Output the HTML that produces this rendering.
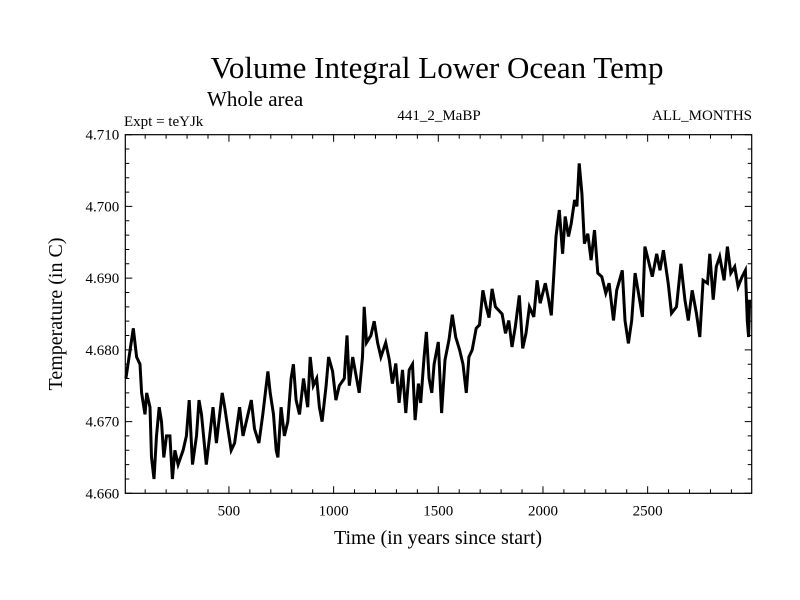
<!DOCTYPE html>
<html><head><meta charset="utf-8"><style>
body{margin:0;background:#fff;}
svg{display:block;font-family:"Liberation Serif",serif;}
</style></head><body>
<svg id="chart" width="800" height="600">
<text x="437" y="78" font-size="31" text-anchor="middle">Volume Integral Lower Ocean Temp</text>
<text x="207" y="106" font-size="21">Whole area</text>
<text x="124" y="126" font-size="15">Expt = teYJk</text>
<text x="439" y="120" font-size="15" text-anchor="middle">441_2_MaBP</text>
<text x="752" y="120" font-size="15" text-anchor="end">ALL_MONTHS</text>
<text x="438" y="544" font-size="20" text-anchor="middle">Time (in years since start)</text>
<text transform="translate(62,314) rotate(-90)" font-size="20" text-anchor="middle">Temperature (in C)</text>
<g id="axes"></g>
<g id="series"></g>
</svg>
<script>
const years=[8,43,59,75,83,99,107,123,130,142,154,167,178,189,202,218,230,242,257,281,297,310,326,345,357,369,392,408,424,440,456,468,480,495,511,527,551,567,591,607,622,643,662,678,686,697,713,726,734,749,765,781,797,808,821,837,856,876,888,903,919,932,945,964,976,995,1011,1027,1051,1064,1075,1091,1110,1122,1138,1146,1157,1178,1194,1210,1226,1249,
1266,1281,1297,1313,1329,1345,1361,1377,1389,1405,1416,1432,1443,1456,1469,1480,1500,1516,1532,1551,1567,1583,1602,1618,1634,1646,1662,1681,1697,1713,1729,1742,1757,1773,
1805,1821,1837,1852,1868,1887,1903,1919,1935,1956,1972,1987,2011,2027,2040,2051,2062,2078,2094,2106,2122,2135,2151,2162,2173,2186,2198,2214,2230,2246,2262,2281,2300,2316,2337,2352,2379,2392,2408,2424,2440,2459,2475,2487,2503,2522,2543,2559,2575,2598,2614,2638,2659,2678,2694,2713,2733,2749,2765,2786,2797,2813,2828,2844,2865,2881,2897,2916,2932,2951,2967,2976,2982,2987];
const temps=[4.676,4.683,4.679,4.678,4.674,4.671,4.674,4.672,4.665,4.662,4.668,4.672,4.670,4.665,4.668,4.668,4.662,4.666,4.664,4.666,4.668,4.673,4.664,4.668,4.673,4.671,4.664,4.668,4.672,4.667,4.671,4.674,4.672,4.669,4.666,4.667,4.672,4.668,4.671,4.673,4.669,4.667,4.671,4.675,4.677,4.674,4.671,4.666,4.665,4.672,4.668,4.670,4.676,4.678,4.673,4.671,4.676,4.672,4.679,4.675,4.676,4.672,4.670,4.675,4.679,4.677,4.673,4.675,4.676,4.682,4.675,4.679,4.676,4.674,4.679,4.686,4.681,4.682,4.684,4.681,4.679,4.681,
4.6786,4.6753,4.6781,4.6726,4.6772,4.6712,4.6772,4.678,4.6702,4.6753,4.6726,4.679,4.6825,4.676,4.674,4.678,4.6811,4.6712,4.6786,4.6814,4.6849,4.6818,4.680,4.678,4.674,4.679,4.680,4.683,4.6835,4.6883,4.686,4.6845,4.6885,4.686,
4.685,4.6823,4.6841,4.6804,4.6832,4.6876,4.6802,4.6823,4.686,4.6846,4.6897,4.6865,4.6893,4.687,4.6848,4.690,4.6958,4.6995,4.6934,4.6986,4.6958,4.6976,4.7009,4.700,4.706,4.7018,4.6948,4.6962,4.6925,4.6967,4.6907,4.6902,4.6879,4.6893,4.6841,4.6883,4.6911,4.6841,4.6809,4.6841,4.6907,4.6874,4.6846,4.6944,4.6925,4.6902,4.6934,4.6911,4.6939,4.6893,4.6851,4.686,4.692,4.687,4.6841,4.6883,4.6851,4.6818,4.6897,4.6893,4.6934,4.687,4.6916,4.693,4.6897,4.6944,4.6907,4.6916,4.6888,4.6902,4.6911,4.6841,4.6818,4.687];
const xTickLabels=[500,1000,1500,2000,2500];
const yTickLabels=["4.660","4.670","4.680","4.690","4.700","4.710"];
const X0=125.3,X1=751.7,Y0=493.3,Y1=134.7;
const xmin=5,xmax=2997,ymin=4.660,ymax=4.710;
const sx=v=>X0+(v-xmin)/(xmax-xmin)*(X1-X0);
const sy=v=>Y0-(v-ymin)/(ymax-ymin)*(Y0-Y1);
const NS="http://www.w3.org/2000/svg";
const axes=document.getElementById('axes');
function mk(tag,attrs,parent){const e=document.createElementNS(NS,tag);for(const k in attrs)e.setAttribute(k,attrs[k]);parent.appendChild(e);return e;}
const frame=mk('rect',{x:X0,y:Y1,width:X1-X0,height:Y0-Y1,fill:'none',stroke:'#000','stroke-width':1.2},axes);


for(let v=100;v<xmax;v+=100){
  const x=sx(v),L=(v%500===0)?7:4;
  const t=mk('path',{d:`M${x},${Y0}v${-L}M${x},${Y1}v${L}`,stroke:'#000','stroke-width':1},axes);
  
  
}
xTickLabels.forEach(v=>{
  const t=mk('text',{x:sx(v),y:Y0+22,'font-size':15,'text-anchor':'middle'},axes);t.textContent=v;
  
  
});
for(let i=0;i<=25;i++){
  const v=ymin+i*0.002,y=sy(v),L=(i%5===0)?7:4;
  const t=mk('path',{d:`M${X0},${y}h${L}M${X1},${y}h${-L}`,stroke:'#000','stroke-width':1},axes);
  
  
}
yTickLabels.forEach(s=>{
  const t=mk('text',{x:X0-6,y:sy(parseFloat(s))+5,'font-size':15,'text-anchor':'end'},axes);t.textContent=s;
  
  
});
const d=years.map((yr,i)=>(i?'L':'M')+sx(yr).toFixed(1)+','+sy(temps[i]).toFixed(1)).join('');
const line=mk('path',{d:d,fill:'none',stroke:'#000','stroke-width':3,'stroke-linejoin':'miter'},document.getElementById('series'));


</script>
</body></html>
